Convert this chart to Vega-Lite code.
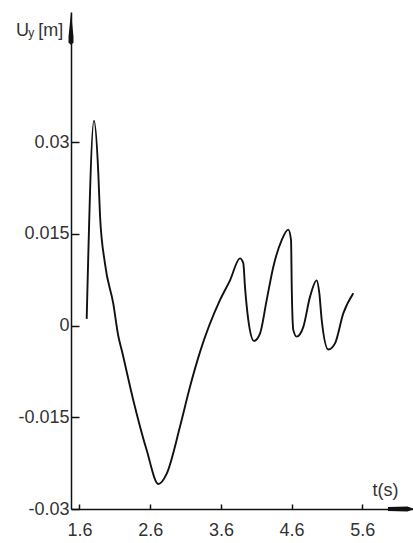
{
  "$schema": "https://vega.github.io/schema/vega-lite/v6.json",
  "width": 342,
  "height": 497,
  "autosize": {"type": "none"},
  "padding": {"left": 71, "top": 12, "right": 0, "bottom": 34},
  "background": "white",
  "config": {
    "view": {"stroke": null},
    "font": "Liberation Sans",
    "axis": {
      "grid": false,
      "domainColor": "#111",
      "domainWidth": 1.5,
      "tickColor": "#111",
      "tickWidth": 1.5,
      "labelFontSize": 18,
      "labelColor": "#333",
      "labelOverlap": false,
      "labelFlush": false,
      "titleFontWeight": "normal",
      "titleFontSize": 18,
      "titleColor": "#333"
    }
  },
  "layer": [
    {
      "data": {
        "values": [
          {"t": 1.702, "uy": 0.0011},
          {"t": 1.805, "uy": 0.0335},
          {"t": 1.866, "uy": 0.025},
          {"t": 1.89, "uy": 0.0181},
          {"t": 1.961, "uy": 0.0101},
          {"t": 2.078, "uy": 0.0036},
          {"t": 2.149, "uy": -0.0017},
          {"t": 2.197, "uy": -0.004},
          {"t": 2.361, "uy": -0.0122},
          {"t": 2.551, "uy": -0.0204},
          {"t": 2.715, "uy": -0.0259},
          {"t": 2.834, "uy": -0.0242},
          {"t": 3.022, "uy": -0.0165},
          {"t": 3.163, "uy": -0.01},
          {"t": 3.305, "uy": -0.0043},
          {"t": 3.588, "uy": 0.0042},
          {"t": 3.729, "uy": 0.0074},
          {"t": 3.87, "uy": 0.011},
          {"t": 3.917, "uy": 0.0102},
          {"t": 3.941, "uy": 0.0063},
          {"t": 3.988, "uy": 0.0009},
          {"t": 4.068, "uy": -0.0025},
          {"t": 4.153, "uy": -0.0013},
          {"t": 4.248, "uy": 0.0042},
          {"t": 4.341, "uy": 0.0096},
          {"t": 4.46, "uy": 0.014},
          {"t": 4.553, "uy": 0.0157},
          {"t": 4.592, "uy": 0.014},
          {"t": 4.602, "uy": 0.0063},
          {"t": 4.624, "uy": -0.0007},
          {"t": 4.672, "uy": -0.0018},
          {"t": 4.766, "uy": -0.0002},
          {"t": 4.86, "uy": 0.0047},
          {"t": 4.955, "uy": 0.0074},
          {"t": 4.992, "uy": 0.0053},
          {"t": 5.026, "uy": 0.0009},
          {"t": 5.119, "uy": -0.0039},
          {"t": 5.214, "uy": -0.0029},
          {"t": 5.331, "uy": 0.002},
          {"t": 5.473, "uy": 0.0053}
        ]
      },
      "mark": {"type": "line", "interpolate": "monotone", "color": "#111", "strokeWidth": 1.9},
      "encoding": {
        "x": {
          "field": "t",
          "type": "quantitative",
          "scale": {"domain": [1.48, 6.317], "nice": false, "zero": false},
          "axis": {
            "values": [1.6, 2.6, 3.6, 4.6, 5.6],
            "format": ".1f",
            "tickSize": -5,
            "labelPadding": 17,
            "title": "t(s)",
            "titleX": 301,
            "titleY": -14,
            "titleAlign": "left",
            "titleBaseline": "alphabetic"
          }
        },
        "y": {
          "field": "uy",
          "type": "quantitative",
          "scale": {"domain": [-0.03, 0.0513], "nice": false, "zero": false},
          "axis": {
            "values": [-0.03, -0.015, 0, 0.015, 0.03],
            "format": "~g",
            "labelExpr": "replace(datum.label, '\u2212', '-')",
            "tickSize": -8,
            "labelPadding": 10,
            "title": null
          }
        }
      }
    },
    {
      "data": {"values": [{}]},
      "mark": {"type": "point", "filled": true, "color": "#111", "opacity": 1, "size": 1090,
        "shape": "M0,-1 L0.15,0.5 L0.15,0.85 L0,1 L-0.15,0.85 L-0.15,0.5 Z"},
      "encoding": {"x": {"datum": 1.48, "type": "quantitative"}, "y": {"datum": 0.0486, "type": "quantitative"}}
    },
    {
      "data": {"values": [{}]},
      "mark": {"type": "point", "filled": true, "color": "#111", "opacity": 1, "size": 680,
        "shape": "M-1,-0.15 L0.5,-0.2 L1,0 L0.5,0.2 L-1,0.15 Z"},
      "encoding": {"x": {"datum": 6.147, "type": "quantitative"}, "y": {"datum": -0.03, "type": "quantitative"}}
    },
    {
      "data": {"values": [{}]},
      "mark": {"type": "text", "text": "U", "fontSize": 18, "align": "left", "baseline": "alphabetic", "color": "#333"},
      "encoding": {"x": {"datum": 0.7022, "type": "quantitative"}, "y": {"datum": 0.04737, "type": "quantitative"}}
    },
    {
      "data": {"values": [{}]},
      "mark": {"type": "text", "text": "y", "fontSize": 12, "align": "left", "baseline": "alphabetic", "color": "#333"},
      "encoding": {"x": {"datum": 0.876, "type": "quantitative"}, "y": {"datum": 0.0472, "type": "quantitative"}}
    },
    {
      "data": {"values": [{}]},
      "mark": {"type": "text", "text": "[m]", "fontSize": 18, "align": "left", "baseline": "alphabetic", "color": "#333"},
      "encoding": {"x": {"datum": 1.0176, "type": "quantitative"}, "y": {"datum": 0.04737, "type": "quantitative"}}
    }
  ]
}
